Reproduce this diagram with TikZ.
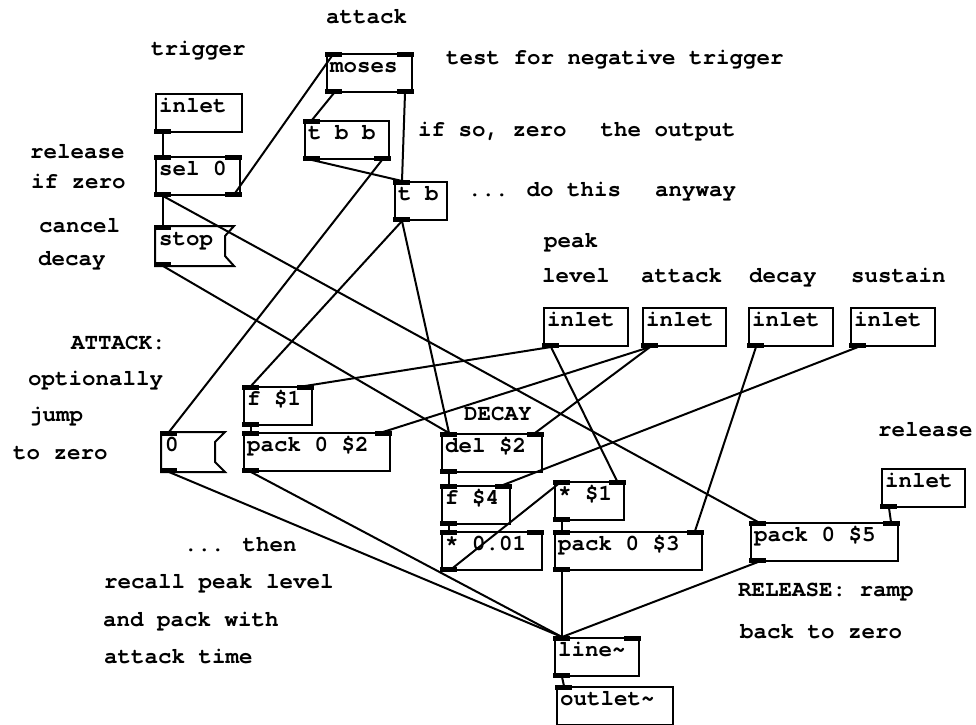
\documentclass[tikz,border=0pt]{standalone}
\usepackage{fontspec}
\setmainfont{TeX Gyre Cursor}[WordSpace={1,0,0}]
\usetikzlibrary{calc}
\newcommand\pdfnt{\fontsize{22.5pt}{27pt}\selectfont\bfseries}
\newcommand\pdinl[1]{\fill ($(#1.north west)+(-1,-1)$) rectangle ++(17,5);}
\newcommand\pdinr[1]{\fill ($(#1.north east)+(1,-1)$) rectangle ++(-17,5);}
\newcommand\pdoutl[1]{\fill ($(#1.south west)+(-1,1)$) rectangle ++(17,-5);}
\newcommand\pdoutr[1]{\fill ($(#1.south east)+(1,1)$) rectangle ++(-17,-5);}
\newcommand\pdflag[2]{\draw (#1.north west) -- (#1.north east) -- ($(#1.north east)+(-#2,10)$) -- ($(#1.south east)+(-#2,-10)$) -- (#1.south east) -- (#1.south west) -- cycle;}
\tikzset{
  pdbox/.style={draw, rectangle, anchor=north west, inner xsep=3pt, inner ysep=0pt,
    text height=18pt, text depth=20pt, align=flush left, font=\pdfnt,
    execute at begin node={\spaceskip=0pt\xspaceskip=0pt\relax}},
  pdmsg/.style={pdbox, draw=none},
  pdtxt/.style={anchor=base west, inner sep=0pt, font=\pdfnt},
}
\begin{document}
\begin{tikzpicture}[x=1pt,y=-1pt,line width=2pt]
\clip (0,0) rectangle (976,724);
\fill[white] (0,0) rectangle (976,724);
% objects
\node[pdbox, text width=80pt] (inT) at (155,93) {inlet};
\node[pdbox, text width=78pt] (sel) at (155,156) {sel 0};
\node[pdmsg, text width=71pt] (stop) at (155,226) {stop};
\node[pdbox, text width=79pt] (moses) at (326,53) {moses};
\node[pdbox, text width=78pt] (tbb) at (304,120) {t b b};
\node[pdbox, text width=46pt] (tb) at (394,181) {t b};
\node[pdbox, text width=78pt] (inL) at (543,307) {inlet};
\node[pdbox, text width=77pt] (inA) at (642,307) {inlet};
\node[pdbox, text width=78pt] (inD) at (748,307) {inlet};
\node[pdbox, text width=78pt] (inS) at (850,307) {inlet};
\node[pdbox, text width=62pt] (f1) at (243,386) {f \$1};
\node[pdmsg, text width=56pt] (zero) at (161,432) {0};
\node[pdbox, text width=140pt] (pack2) at (243,432) {pack 0 \$2};
\node[pdbox, text width=94pt] (del) at (441,433) {del \$2};
\node[pdbox, text width=62pt] (f4) at (441,485) {f \$4};
\node[pdbox, text width=94pt] (mulA) at (441,531) {* 0.01};
\node[pdbox, text width=63pt] (mulB) at (554,481) {* \$1};
\node[pdbox, text width=141pt] (pack3) at (554,531) {pack 0 \$3};
\node[pdbox, text width=77pt] (inR) at (881,468) {inlet};
\node[pdbox, text width=141pt] (pack5) at (750,522) {pack 0 \$5};
\node[pdbox, text width=78pt] (line) at (554,637) {line\char`~};
\node[pdbox, text width=110pt] (outl) at (556,686) {outlet\char`~};
\pdflag{stop}{9}
\pdflag{zero}{10}
% ports
\pdoutl{inT}
\pdinl{sel}\pdinr{sel}\pdoutl{sel}\pdoutr{sel}
\pdinl{stop}\pdoutl{stop}
\pdinl{moses}\pdinr{moses}\pdoutl{moses}\pdoutr{moses}
\pdinl{tbb}\pdoutl{tbb}\pdoutr{tbb}
\pdinl{tb}\pdoutl{tb}
\pdoutl{inL}\pdoutl{inA}\pdoutl{inD}\pdoutl{inS}\pdoutl{inR}
\pdinl{f1}\pdinr{f1}\pdoutl{f1}
\pdinl{zero}\pdoutl{zero}
\pdinl{pack2}\pdinr{pack2}\pdoutl{pack2}
\pdinl{del}\pdinr{del}\pdoutl{del}
\pdinl{f4}\pdinr{f4}\pdoutl{f4}
\pdinl{mulA}\pdinr{mulA}\pdoutl{mulA}
\pdinl{mulB}\pdinr{mulB}\pdoutl{mulB}
\pdinl{pack3}\pdinr{pack3}\pdoutl{pack3}
\pdinl{pack5}\pdinr{pack5}\pdoutl{pack5}
\pdinl{line}\pdinr{line}\pdoutl{line}
\pdinl{outl}
% connections
\draw ($(inT.south west)+(8,0)$) -- ($(sel.north west)+(8,0)$);
\draw ($(sel.south west)+(8,0)$) -- ($(stop.north west)+(8,0)$);
\draw ($(sel.south east)+(-8,0)$) -- ($(moses.north west)+(8,0)$);
\draw ($(sel.south west)+(8,0)$) -- ($(pack5.north west)+(8,0)$);
\draw ($(stop.south west)+(8,0)$) -- ($(del.north west)+(8,0)$);
\draw ($(moses.south west)+(8,0)$) -- ($(tbb.north west)+(8,0)$);
\draw ($(moses.south east)+(-8,0)$) -- ($(tb.north west)+(8,0)$);
\draw ($(tbb.south west)+(8,0)$) -- ($(tb.north west)+(8,0)$);
\draw ($(tbb.south east)+(-8,0)$) -- ($(zero.north west)+(8,0)$);
\draw ($(tb.south west)+(8,0)$) -- ($(f1.north west)+(8,0)$);
\draw ($(tb.south west)+(8,0)$) -- ($(del.north west)+(8,0)$);
\draw ($(inL.south west)+(8,0)$) -- ($(f1.north east)+(-8,0)$);
\draw ($(inL.south west)+(8,0)$) -- ($(mulB.north east)+(-8,0)$);
\draw ($(inA.south west)+(8,0)$) -- ($(pack2.north east)+(-8,0)$);
\draw ($(inA.south west)+(8,0)$) -- ($(del.north east)+(-8,0)$);
\draw ($(inD.south west)+(8,0)$) -- ($(pack3.north east)+(-8,0)$);
\draw ($(inS.south west)+(8,0)$) -- ($(f4.north east)+(-8,0)$);
\draw ($(del.south west)+(8,0)$) -- ($(f4.north west)+(8,0)$);
\draw ($(f4.south west)+(8,0)$) -- ($(mulA.north west)+(8,0)$);
\draw ($(mulA.south west)+(8,0)$) -- ($(mulB.north west)+(8,0)$);
\draw ($(mulB.south west)+(8,0)$) -- ($(pack3.north west)+(8,0)$);
\draw ($(pack3.south west)+(8,0)$) -- ($(line.north west)+(8,0)$);
\draw ($(pack5.south west)+(8,0)$) -- ($(line.north west)+(8,0)$);
\draw ($(inR.south west)+(8,0)$) -- ($(pack5.north east)+(-8,0)$);
\draw ($(zero.south west)+(8,0)$) -- ($(line.north west)+(8,0)$);
\draw ($(pack2.south west)+(8,0)$) -- ($(line.north west)+(8,0)$);
\draw ($(f1.south west)+(8,0)$) -- ($(pack2.north west)+(8,0)$);
\draw ($(line.south west)+(8,0)$) -- ($(outl.north west)+(8,0)$);
% comments
\node[pdtxt] (c1) at (325,23) {attack};
\node[pdtxt] (c2) at (150,55) {trigger};
\node[pdtxt] (c3) at (445,64) {test for negative trigger};
\node[pdtxt] (c4) at (417,136) {if so, zero\hspace{34pt}the output};
\node[pdtxt] (c5) at (467,196) {... do this\hspace{34pt}anyway};
\node[pdtxt] (c6) at (29,158) {release};
\node[pdtxt] (c7) at (30,188) {if zero};
\node[pdtxt] (c8) at (38,232) {cancel};
\node[pdtxt] (c9) at (37,265) {decay};
\node[pdtxt] (c10) at (543,247) {peak};
\node[pdtxt] (c11) at (541,282) {level};
\node[pdtxt] (c12) at (640,282) {attack};
\node[pdtxt] (c13) at (748,282) {decay};
\node[pdtxt] (c14) at (850,282) {sustain};
\node[pdtxt] (c15) at (70,349) {ATTACK:};
\node[pdtxt] (c16) at (27,385) {optionally};
\node[pdtxt] (c17) at (28,421) {jump};
\node[pdtxt] (c18) at (12,459) {to zero};
\node[pdtxt] (c19) at (463,420) {DECAY};
\node[pdtxt] (c20) at (877,436) {release};
\node[pdtxt] (c21) at (183,551) {... then};
\node[pdtxt] (c22) at (103,588) {recall peak level};
\node[pdtxt] (c23) at (102,626) {and pack with};
\node[pdtxt] (c24) at (103,663) {attack time};
\node[pdtxt] (c25) at (737,596) {RELEASE: ramp};
\node[pdtxt] (c26) at (739,638) {back to zero};
\end{tikzpicture}
\end{document}
